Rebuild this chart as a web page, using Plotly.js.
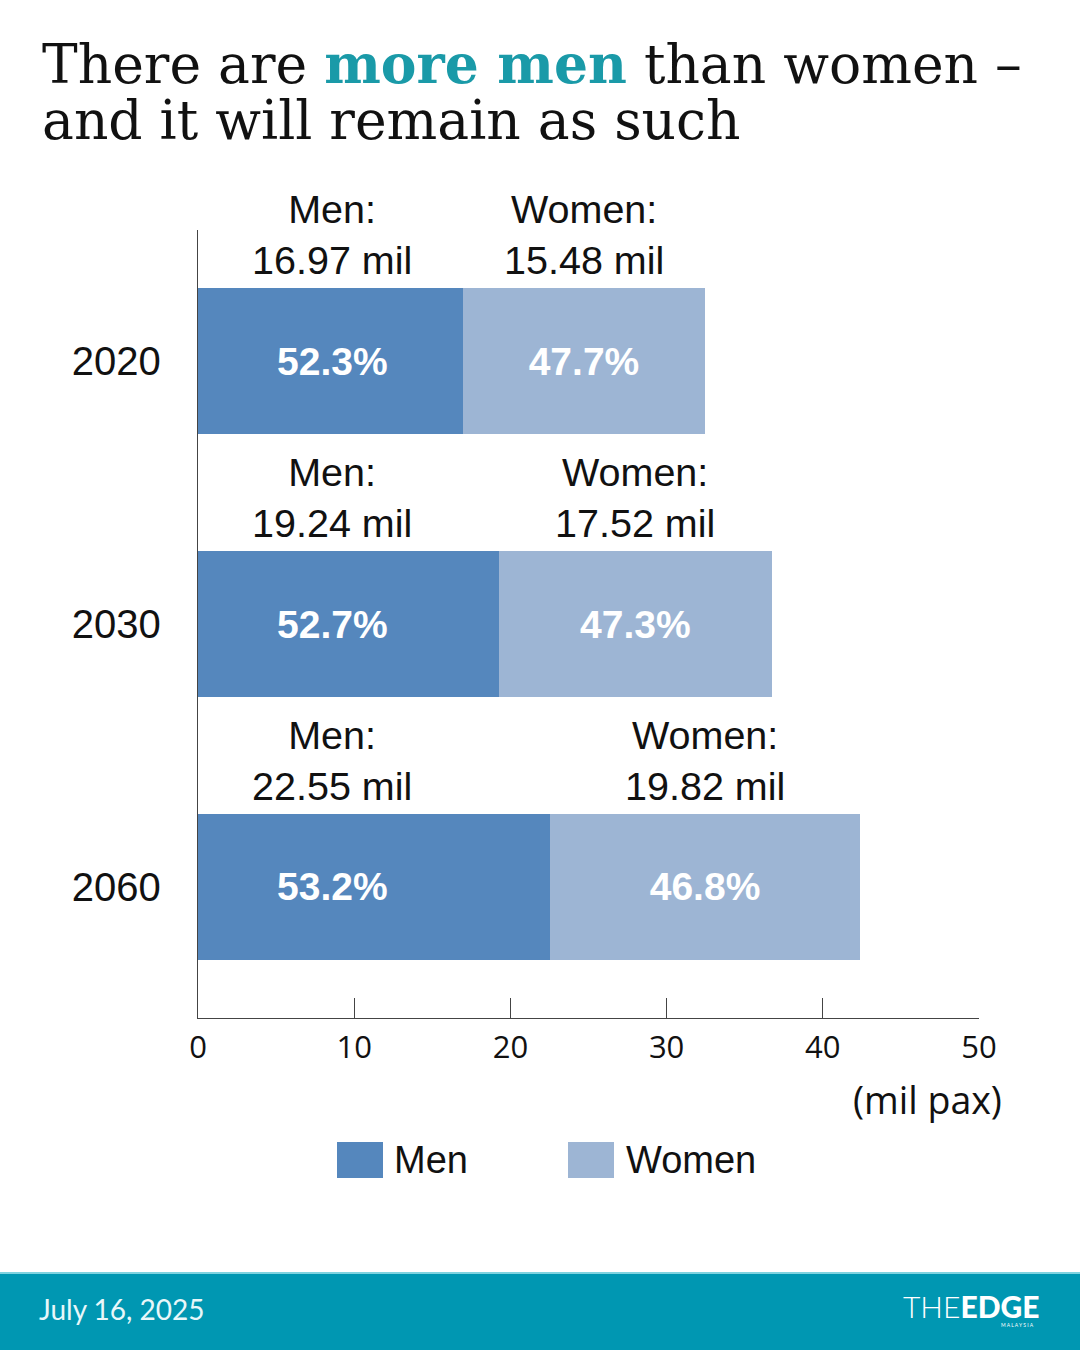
<!DOCTYPE html>
<html>
<head>
<meta charset="utf-8">
<script src="https://cdn.plot.ly/plotly-3.0.1.min.js"></script>
<style>
html,body{margin:0;padding:0;background:#fff;}
#chart{width:1080px;height:1350px;}
</style>
</head>
<body>
<div id="chart"></div>
<script>
// ---- data ----
var years = ['2020', '2030', '2060'];
var menValues = [16.97, 19.24, 22.55];
var womenValues = [15.48, 17.52, 19.82];
var menPct = ['52.3%', '52.7%', '53.2%'];
var womenPct = ['47.7%', '47.3%', '46.8%'];
var seriesNames = ['Men', 'Women'];
var xTicks = [0, 10, 20, 30, 40, 50];

// ---- layout geometry ----
var W = 1080, H = 1350;
var L = 198, R = 101, T = 230, B = 332;
var PW = W - L - R, PH = H - T - B;
function px(X) { return (X - L) / PW; }
function py(Y) { return (H - B - Y) / PH; }

var menColor = '#5587bd';
var womenColor = '#9db5d4';
var teal = '#1a9aa8';
var sans = 'Liberation Sans, Arial, sans-serif';
var serif = 'DejaVu Serif, serif';
var menLabelX = 8.6; // men labels sit at a fixed horizontal position in the original

var traces = [
  {
    type: 'bar', orientation: 'h', name: seriesNames[0],
    y: years, x: menValues,
    marker: { color: menColor, line: { width: 0 } },
    width: 0.556, textposition: 'none',
    hoverinfo: 'skip'
  },
  {
    type: 'bar', orientation: 'h', name: seriesNames[1],
    y: years, x: womenValues, text: womenPct,
    marker: { color: womenColor, line: { width: 0 } },
    width: 0.556,
    textposition: 'inside', insidetextanchor: 'middle', constraintext: 'none',
    textfont: { family: sans, size: 39, color: '#ffffff' },
    texttemplate: '<b>%{text}</b>',
    hoverinfo: 'skip'
  }
];

var annotations = [];
for (var i = 0; i < years.length; i++) {
  // men percentage inside bar
  annotations.push({
    xref: 'x', yref: 'y', x: menLabelX, y: i,
    xanchor: 'center', yanchor: 'middle', showarrow: false,
    text: '<b>' + menPct[i] + '</b>',
    font: { family: sans, size: 39, color: '#ffffff' }
  });
  // value labels above each segment
  annotations.push({
    xref: 'x', yref: 'y', x: menLabelX, y: i,
    yshift: 77, yanchor: 'bottom', xanchor: 'center', showarrow: false,
    text: seriesNames[0] + ':<br>' + menValues[i].toFixed(2) + ' mil',
    font: { family: sans, size: 39.5, color: '#111111' }
  });
  annotations.push({
    xref: 'x', yref: 'y', x: menValues[i] + womenValues[i] / 2, y: i,
    yshift: 77, yanchor: 'bottom', xanchor: 'center', showarrow: false,
    text: seriesNames[1] + ':<br>' + womenValues[i].toFixed(2) + ' mil',
    font: { family: sans, size: 39.5, color: '#111111' }
  });
}
// title
annotations.push({
  xref: 'paper', yref: 'paper', x: px(40), y: py(64), xanchor: 'left', yanchor: 'middle',
  showarrow: false,
  text: 'There are <span style="color:' + teal + '"><b>more men</b></span> than women \u2013',
  font: { family: serif, size: 53.5, color: '#111111' }
});
annotations.push({
  xref: 'paper', yref: 'paper', x: px(40), y: py(120), xanchor: 'left', yanchor: 'middle',
  showarrow: false,
  text: 'and it will remain as such',
  font: { family: serif, size: 53.5, color: '#111111' }
});
// axis unit
annotations.push({
  xref: 'paper', yref: 'paper', x: px(1004), y: py(1099), xanchor: 'right', yanchor: 'middle',
  showarrow: false, text: '(mil pax)',
  font: { family: 'Open Sans, sans-serif', size: 37.5, color: '#111111' }
});
// legend text
annotations.push({
  xref: 'paper', yref: 'paper', x: px(392), y: py(1160), xanchor: 'left', yanchor: 'middle',
  showarrow: false, text: seriesNames[0],
  font: { family: sans, size: 38, color: '#111111' }
});
annotations.push({
  xref: 'paper', yref: 'paper', x: px(624), y: py(1160), xanchor: 'left', yanchor: 'middle',
  showarrow: false, text: seriesNames[1],
  font: { family: sans, size: 38, color: '#111111' }
});
// footer
annotations.push({
  xref: 'paper', yref: 'paper', x: px(37), y: py(1309), xanchor: 'left', yanchor: 'middle',
  showarrow: false, text: 'July 16, 2025',
  font: { family: 'Lato, sans-serif', size: 28, color: '#e8f7fa' }
});
annotations.push({
  xref: 'paper', yref: 'paper', x: px(1041), y: py(1306), xanchor: 'right', yanchor: 'middle',
  showarrow: false,
  text: '<span style="font-weight:300">THE</span><span style="font-weight:900">EDGE</span>',
  font: { family: 'Lato, sans-serif', size: 30, color: '#ffffff' }
});
annotations.push({
  xref: 'paper', yref: 'paper', x: px(1036), y: py(1325), xanchor: 'right', yanchor: 'middle',
  showarrow: false, text: 'M A L A Y S I A',
  font: { family: 'Lato, sans-serif', size: 5, color: '#ffffff' }
});

var shapes = [
  // footer band
  { type: 'rect', xref: 'paper', yref: 'paper', x0: px(-5), x1: px(1085), y0: py(1272), y1: py(1360),
    fillcolor: '#0097b2', line: { width: 0 }, layer: 'below' },
  { type: 'line', xref: 'paper', yref: 'paper', x0: px(-5), x1: px(1085), y0: py(1273), y1: py(1273),
    line: { color: '#7fd3e0', width: 2 } },
  // legend swatches
  { type: 'rect', xref: 'paper', yref: 'paper', x0: px(337), x1: px(383), y0: py(1178), y1: py(1142),
    fillcolor: menColor, line: { width: 0 } },
  { type: 'rect', xref: 'paper', yref: 'paper', x0: px(568), x1: px(614), y0: py(1178), y1: py(1142),
    fillcolor: womenColor, line: { width: 0 } }
];

var layout = {
  width: W, height: H,
  margin: { l: L, r: R, t: T, b: B, pad: 0 },
  paper_bgcolor: '#ffffff', plot_bgcolor: '#ffffff',
  barmode: 'stack', bargap: 0,
  showlegend: false,
  xaxis: {
    range: [0, 50], tickvals: xTicks, ticktext: xTicks.map(String),
    ticks: 'inside', ticklen: 20, tickwidth: 1.3, tickcolor: '#444444',
    showline: true, linecolor: '#444444', linewidth: 1.3,
    showgrid: false, zeroline: false, fixedrange: true,
    ticklabelstandoff: 1,
    tickfont: { family: 'Open Sans, sans-serif', size: 31, color: '#111111' }
  },
  yaxis: {
    type: 'category', categoryorder: 'array', categoryarray: years,
    range: [2.5, -0.5],
    showline: true, linecolor: '#444444', linewidth: 1.3,
    ticks: '', showgrid: false, zeroline: false, fixedrange: true,
    ticklabelstandoff: 28,
    tickfont: { family: sans, size: 40, color: '#111111' }
  },
  annotations: annotations,
  shapes: shapes
};

Plotly.newPlot('chart', traces, layout, { staticPlot: true, displayModeBar: false });
</script>
</body>
</html>
